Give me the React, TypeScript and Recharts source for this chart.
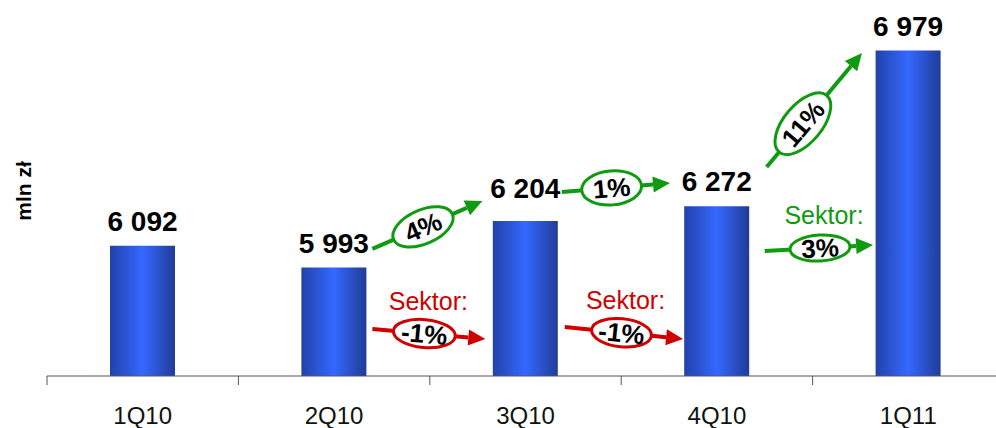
import { BarChart, Bar, XAxis, YAxis, LabelList, ReferenceLine, Customized } from "recharts";

const quarters = ["1Q10", "2Q10", "3Q10", "4Q10", "1Q11"];
const deposits = [6092, 5993, 6204, 6272, 6979];
const growthLabels = ["4%", "1%", "11%"];
const sectorLabels = ["-1%", "-1%", "3%"];

const data = quarters.map((q, i) => ({ q, idx: i, value: deposits[i] }));

const CHART_W = 1010;
const CHART_H = 428;
const MARGIN = { top: 46, right: 6, left: 0, bottom: 0 };
const Y_W = 47;
const X_H = 52;
const AXIS_Y = CHART_H - X_H;
const BAND = (CHART_W - MARGIN.left - MARGIN.right - Y_W) / quarters.length;
// extra lift for the value label of 3Q10, which sits above the arrows
const LABEL_LIFT = [0, 0, 8, 0, 0];

const GREEN = "#109a10";
const RED = "#d00000";
const FONT = "'Liberation Sans', Arial, sans-serif";

// arrows in (category index, value) space, placed through the hidden numeric axis
const arrows = [
  { text: growthLabels[0], color: GREEN, from: { x: 1.2, y: 6078 }, to: { x: 1.775, y: 6295 }, at: 0.46, rx: 32, ry: 17, sektor: false },
  { text: growthLabels[1], color: GREEN, from: { x: 2.19, y: 6336 }, to: { x: 2.755, y: 6377 }, at: 0.46, rx: 30, ry: 17, sektor: false },
  { text: growthLabels[2], color: GREEN, from: { x: 3.26, y: 6450 }, to: { x: 3.758, y: 6968 }, at: 0.38, rx: 37, ry: 19, sektor: false },
  { text: sectorLabels[0], color: RED, from: { x: 1.2, y: 5714 }, to: { x: 1.79, y: 5668 }, at: 0.46, rx: 31, ry: 14, sektor: true },
  { text: sectorLabels[1], color: RED, from: { x: 2.205, y: 5723 }, to: { x: 2.823, y: 5668 }, at: 0.48, rx: 30, ry: 14, sektor: true },
  { text: sectorLabels[2], color: GREEN, from: { x: 3.25, y: 6068 }, to: { x: 3.816, y: 6095 }, at: 0.51, rx: 30, ry: 13, sektor: true },
];

const fmt = (v: number) => String(v).replace(/\B(?=(\d{3})+(?!\d))/g, " ");

function ArrowShape(props: any) {
  const { x1, y1, x2, y2, a } = props;
  if (x1 == null || x2 == null) return null;
  const ang = Math.atan2(y2 - y1, x2 - x1);
  const deg = (ang * 180) / Math.PI;
  const cos = Math.cos(ang);
  const sin = Math.sin(ang);
  const L = 17;
  const W = 8;
  const bx = x2 - L * cos;
  const by = y2 - L * sin;
  const cx = x1 + (x2 - x1) * a.at;
  const cy = y1 + (y2 - y1) * a.at;
  return (
    <g>
      <line x1={x1} y1={y1} x2={bx} y2={by} stroke={a.color} strokeWidth={4} />
      <polygon
        points={`${x2},${y2} ${bx - W * sin},${by + W * cos} ${bx + W * sin},${by - W * cos}`}
        fill={a.color}
      />
      <ellipse
        cx={cx}
        cy={cy}
        rx={a.rx}
        ry={a.ry}
        transform={`rotate(${deg} ${cx} ${cy})`}
        fill="#fff"
        stroke={a.color}
        strokeWidth={3}
      />
      <text
        x={cx}
        y={cy}
        dy="0.36em"
        textAnchor="middle"
        transform={`rotate(${deg} ${cx} ${cy})`}
        fontSize={26}
        fontWeight="bold"
        fontFamily={FONT}
        fill="#000"
      >
        {a.text}
      </text>
      {a.sektor && (
        <text x={cx + 4} y={cy - 24} textAnchor="middle" fontSize={25} fontFamily={FONT} fill={a.color}>
          Sektor:
        </text>
      )}
    </g>
  );
}

function QuarterTick(props: any) {
  const { x, payload } = props;
  const left = x - BAND / 2;
  return (
    <g>
      <line x1={left} y1={AXIS_Y} x2={left} y2={AXIS_Y + 9} stroke="#555" strokeWidth={1} />
      <text x={x} y={AXIS_Y + 31} dy="0.71em" textAnchor="middle" fontSize={24} fontFamily={FONT} fill="#111">
        {payload.value}
      </text>
    </g>
  );
}

function ValueLabel(props: any) {
  const { x, y, width, value, index } = props;
  return (
    <text
      x={x + width / 2}
      y={y - 15 - LABEL_LIFT[index]}
      textAnchor="middle"
      fontSize={28}
      fontWeight="bold"
      fontFamily={FONT}
      fill="#000"
    >
      {fmt(Number(value))}
    </text>
  );
}

export default function App() {
  return (
    <div style={{ position: "fixed", left: 0, top: 0, width: 996, height: 428, overflow: "hidden", background: "#fff" }}>
      <BarChart width={CHART_W} height={CHART_H} data={data} margin={MARGIN}>
        <defs>
          <linearGradient id="barFill" x1="0" y1="0" x2="1" y2="0">
            <stop offset="0%" stopColor="#2242a8" />
            <stop offset="50%" stopColor="#3468ff" />
            <stop offset="100%" stopColor="#203c96" />
          </linearGradient>
        </defs>
        <XAxis
          dataKey="q"
          height={X_H}
          axisLine={{ stroke: "#555", strokeWidth: 1 }}
          tickLine={false}
          tick={<QuarterTick />}
          interval={0}
        />
        <XAxis xAxisId="n" dataKey="idx" type="number" domain={[-0.5, 4.5]} allowDataOverflow hide />
        <YAxis width={Y_W} domain={[5500, 7000]} allowDataOverflow tick={false} axisLine={false} tickLine={false} />
        <Bar dataKey="value" fill="url(#barFill)" barSize={65} isAnimationActive={false}>
          <LabelList dataKey="value" content={<ValueLabel />} />
        </Bar>
        {arrows.map((a, i) => (
          <ReferenceLine
            key={i}
            xAxisId="n"
            segment={[a.from, a.to]}
            ifOverflow="visible"
            shape={(p: any) => <ArrowShape {...p} a={a} />}
          />
        ))}
        <Customized
          component={() => (
            <text
              x={24}
              y={191}
              transform="rotate(-90 24 191)"
              textAnchor="middle"
              dy="0.35em"
              fontSize={21}
              fontWeight="bold"
              fontFamily={FONT}
              fill="#000"
            >
              mln zł
            </text>
          )}
        />
      </BarChart>
    </div>
  );
}
